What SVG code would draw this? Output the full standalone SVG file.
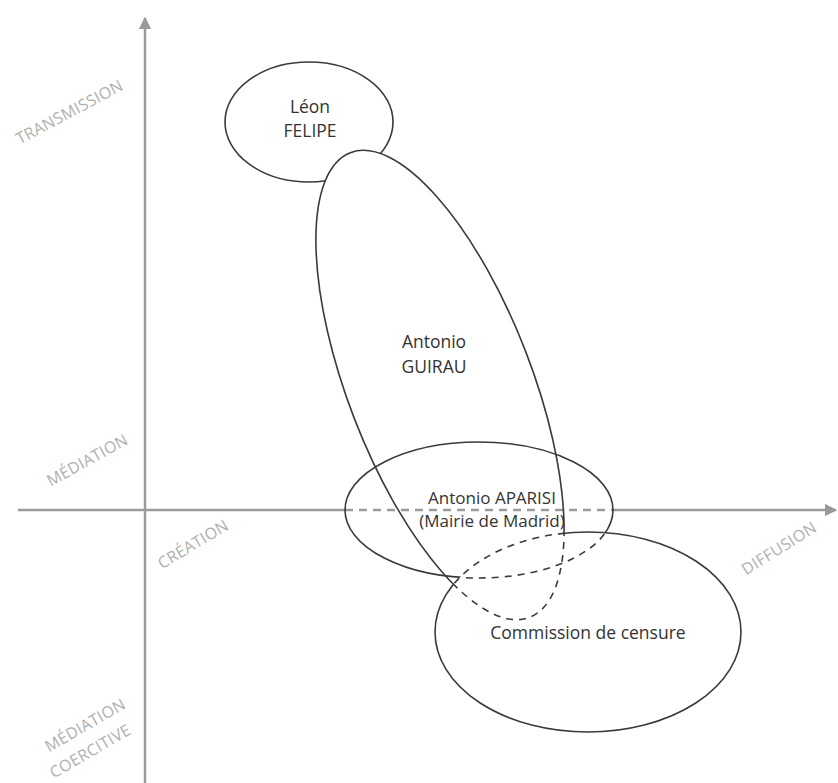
<svg xmlns="http://www.w3.org/2000/svg" width="838" height="783" viewBox="0 0 838 783">
<style>
.axis{stroke:#9a9a9a;stroke-width:2.5;fill:none}
.shape{stroke:#3a3a3a;stroke-width:1.6;fill:none}
.dash{stroke-dasharray:7 6}
.axdash{stroke-dasharray:8 6}
.lbl{font-family:"Open Sans","DejaVu Sans",sans-serif;font-size:17.5px;fill:#333;text-anchor:middle}
.ax{font-family:"Open Sans","DejaVu Sans",sans-serif;font-size:16px;fill:#b0b0b0;text-anchor:middle;letter-spacing:0.3px}
</style>
<defs>
<marker id="arr" viewBox="0 0 10 10" refX="9" refY="5" markerWidth="5" markerHeight="5" orient="auto" markerUnits="strokeWidth">
<path d="M0,0 L10,5 L0,10 z" fill="#9a9a9a"/>
</marker>
<ellipse id="gE" cx="440" cy="385" rx="92" ry="249" transform="rotate(-21.1 440 385)"/>
<ellipse id="aE" cx="479" cy="510" rx="134" ry="68"/>
<ellipse id="cE" cx="588" cy="632" rx="153" ry="100"/>
<clipPath id="inG"><use href="#gE"/></clipPath>
<clipPath id="inC"><use href="#cE"/></clipPath>
<mask id="outG" maskUnits="userSpaceOnUse" x="0" y="0" width="838" height="783"><rect width="838" height="783" fill="#fff"/><use href="#gE" fill="#000"/></mask>
<mask id="outA" maskUnits="userSpaceOnUse" x="0" y="0" width="838" height="783"><rect width="838" height="783" fill="#fff"/><use href="#aE" fill="#000"/></mask>
<mask id="outC" maskUnits="userSpaceOnUse" x="0" y="0" width="838" height="783"><rect width="838" height="783" fill="#fff"/><use href="#cE" fill="#000"/></mask>
</defs>
<rect width="838" height="783" fill="#fff"/>
<g id="axes">
<line class="axis" x1="145" y1="783" x2="145" y2="18" marker-end="url(#arr)"/>
<line class="axis" x1="18" y1="510" x2="836" y2="510" marker-end="url(#arr)" mask="url(#outA)"/>
<line class="axis axdash" x1="345" y1="510" x2="613" y2="510"/>
<text class="ax" transform="translate(72,117) rotate(-28)">TRANSMISSION</text>
<text class="ax" transform="translate(90,465) rotate(-29)">MÉDIATION</text>
<text class="ax" transform="translate(196,549) rotate(-31)">CRÉATION</text>
<text class="ax" transform="translate(782,553) rotate(-32)">DIFFUSION</text>
<text class="ax" transform="translate(88,730) rotate(-30)">MÉDIATION</text>
<text class="ax" transform="translate(93,756) rotate(-30)">COERCITIVE</text>
</g>
<g id="leon">
<ellipse class="shape" cx="309" cy="122" rx="84" ry="60" fill="#fff"/>
<text class="lbl" x="310" y="113">Léon</text>
<text class="lbl" x="310" y="137">FELIPE</text>
</g>
<g id="guirau">
<use href="#gE" fill="#fff"/>
<line class="axis axdash" x1="345" y1="510" x2="613" y2="510" clip-path="url(#inG)"/>
<use href="#gE" class="shape" mask="url(#outC)"/>
<use href="#gE" class="shape dash" clip-path="url(#inC)"/>
<text class="lbl" x="434" y="348">Antonio</text>
<text class="lbl" x="434" y="373">GUIRAU</text>
</g>
<g id="aparisi">
<use href="#aE" class="shape" mask="url(#outC)"/>
<use href="#aE" class="shape dash" clip-path="url(#inC)"/>
<text class="lbl" x="492" y="504" style="font-size:17px">Antonio APARISI</text>
<text class="lbl" x="492" y="527" style="font-size:17px">(Mairie de Madrid)</text>
</g>
<g id="commission">
<use href="#cE" class="shape" mask="url(#outG)"/>
<use href="#cE" class="shape dash" clip-path="url(#inG)"/>
<text class="lbl" x="588" y="639">Commission de censure</text>
</g>
</svg>
